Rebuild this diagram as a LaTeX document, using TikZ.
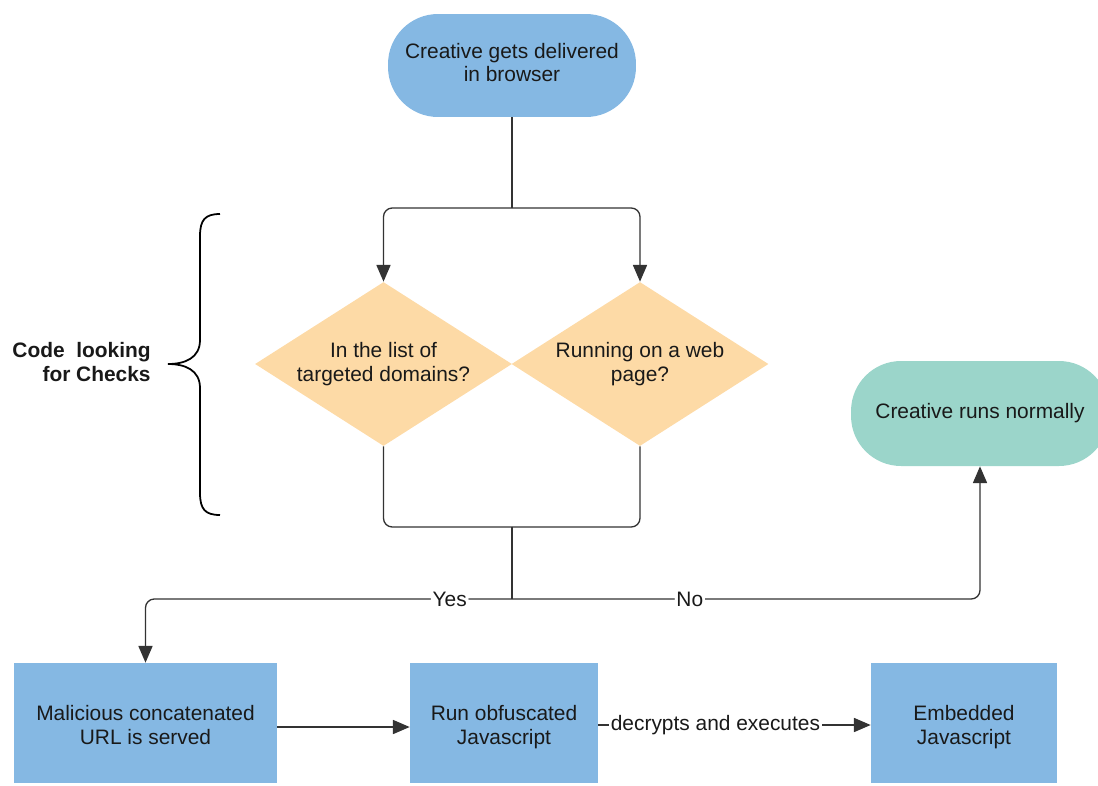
\documentclass[tikz,border=0pt]{standalone}
\usepackage{fontspec}
\setmainfont{Liberation Sans}
\usetikzlibrary{arrows.meta,shapes.geometric}
\definecolor{boxblue}{HTML}{85B8E3}
\definecolor{peach}{HTML}{FDDAA6}
\definecolor{mint}{HTML}{9BD5CA}
\definecolor{linec}{HTML}{333333}
\begin{document}
\begin{tikzpicture}[x=0.02cm,y=-0.02cm,
  font=\fontsize{11.9}{13.2}\selectfont,
  every node/.style={text=black!90},
  term/.style={fill=boxblue, rounded corners=1cm, minimum width=4.96cm, minimum height=2.06cm, align=center, inner sep=0pt},
  greenterm/.style={fill=mint, rounded corners=1cm, minimum width=5.16cm, minimum height=2.1cm, align=center, inner sep=0pt},
  decision/.style={diamond, fill=peach, shape aspect=1.57, minimum width=5.14cm, minimum height=3.28cm, inner sep=0pt, align=center},
  procbox/.style={fill=boxblue, minimum height=2.4cm, align=center, inner sep=0pt},
  conn/.style={draw=linec, line width=0.75pt, rounded corners=5},
  arr/.style={conn, -{Triangle[length=9.5pt,width=8pt]}},
  lbl/.style={fill=white, inner sep=1pt}
]
\useasboundingbox (0,0) rectangle (1098,785);

\node[term] (start) at (512,65.5) {\raisebox{3pt}{\begin{tabular}{@{}c@{}}Creative gets delivered\\in browser\end{tabular}}};
\node[decision] (d1) at (383.5,364) {In the list of\\targeted domains?};
\node[decision] (d2) at (640,364) {Running on a web\\page?};
\node[greenterm] (normal) at (980,413.5) {Creative runs normally};
\node[procbox, minimum width=5.26cm] (b1) at (145.5,723) {\raisebox{-5.8pt}[0pt][0pt]{\begin{tabular}{@{}c@{}}Malicious concatenated\\URL is served\end{tabular}}};
\node[procbox, minimum width=3.76cm] (b2) at (504,723) {\raisebox{-5.8pt}[0pt][0pt]{\begin{tabular}{@{}c@{}}Run obfuscated\\Javascript\end{tabular}}};
\node[procbox, minimum width=3.72cm] (b3) at (964,723) {\raisebox{-5.8pt}[0pt][0pt]{\begin{tabular}{@{}c@{}}Embedded\\Javascript\end{tabular}}};

\coordinate (split) at (512,208);
\coordinate (join) at (512,527);
\coordinate (fork) at (512,599);

\draw[conn] (start.south) -- (split);
\draw[arr] (split) -| (d1.north);
\draw[arr] (split) -| (d2.north);
\draw[conn] (d1.south) |- (join);
\draw[conn] (d2.south) |- (join);
\draw[conn] (join) -- (fork);
\draw[arr] (fork) -| node[lbl, pos=0.085] {Yes} (b1.north);
\draw[arr] (fork) -| node[lbl, pos=0.19] {No} (normal.south);
\draw[arr] (b1.east |- 0,727) -- (b2.west |- 0,727);
\draw[arr] (b2.east |- 0,725) -- node[lbl, pos=0.43] {decrypts and executes} (b3.west |- 0,725);

% brace
\draw[draw=black, line width=1pt]
  (220,214) .. controls (205,214) and (200,220) .. (200,236)
  -- (200,340) .. controls (200,358) and (185,364) .. (168,364)
  .. controls (185,364) and (200,370) .. (200,388)
  -- (200,493) .. controls (200,509) and (205,515) .. (220,515);
\node[anchor=east, align=right, inner sep=0pt, font=\fontsize{11.9}{13.2}\selectfont\bfseries] (code) at (151,362) {Code~ looking\\for Checks};
\end{tikzpicture}
\end{document}
